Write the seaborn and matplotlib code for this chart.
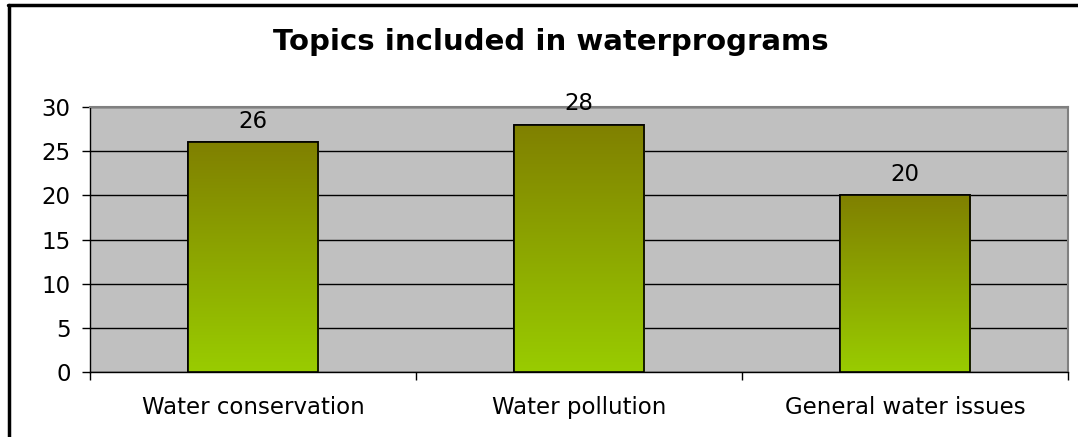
import numpy as np
import pandas as pd
import matplotlib
matplotlib.use("Agg")
import matplotlib.pyplot as plt
from matplotlib.lines import Line2D
import seaborn as sns

categories = ["Water conservation", "Water pollution", "General water issues"]
counts = [26, 28, 20]
yticks = [0, 5, 10, 15, 20, 25, 30]

sns.set_style("white")
# reference text is wide Arial-like; DejaVu Sans gets closer on width
plt.rcParams["font.family"] = ["DejaVu Sans"]

data = pd.DataFrame({"topic": categories, "count": counts})

fig = plt.figure(figsize=(10.78, 4.37), dpi=100)
ax = fig.add_axes([0.0835, 0.1487, 0.9072, 0.6064])
ax.set_facecolor("#C0C0C0")

sns.barplot(data=data, x="topic", y="count", ax=ax, width=0.4,
            color="#99CC00", edgecolor="black", linewidth=1.2, zorder=3)

# gradient fill olive -> lime inside each bar
grad = np.linspace(0, 1, 256).reshape(-1, 1)
cmap = matplotlib.colors.LinearSegmentedColormap.from_list("g", ["#99CC00", "#808000"])
for bar in ax.patches:
    x0, y0 = bar.get_x(), bar.get_y()
    w, h = bar.get_width(), bar.get_height()
    im = ax.imshow(grad, extent=[x0, x0 + w, y0, y0 + h], origin="lower",
                   cmap=cmap, aspect="auto", zorder=3.5)
    im.set_clip_path(bar)
    ax.add_patch(plt.Rectangle((x0, y0), w, h, fill=False, edgecolor="black",
                               linewidth=1.2, zorder=4))

for i, v in enumerate(counts):
    ax.text(i, v + 1.1, str(v), ha="center", va="bottom", fontsize=16.5, color="black")

ax.set_xlim(-0.5, len(categories) - 0.5)
ax.set_ylim(0, 30)
ax.set_yticks(yticks)
ax.yaxis.grid(True, color="black", linewidth=1, zorder=1)
ax.set_axisbelow(True)
ax.tick_params(axis="y", labelsize=16.5, labelcolor="black", length=6, width=1,
               color="black", direction="out", left=True, pad=8)
ax.set_xticks(np.arange(-0.5, len(categories)), minor=False)
ax.set_xticklabels([])
ax.set_xticks(range(len(categories)), minor=True)
ax.set_xticklabels(categories, minor=True, fontsize=16.5, color="black")
ax.tick_params(axis="x", which="major", length=6, width=1, color="black", direction="out", bottom=True)
ax.tick_params(axis="x", which="minor", length=0, pad=17)
ax.set_xlabel("")
ax.set_ylabel("")

for side in ["top", "right"]:
    ax.spines[side].set_color("#808080")
    ax.spines[side].set_linewidth(1.5)
for side in ["left", "bottom"]:
    ax.spines[side].set_color("black")
    ax.spines[side].set_linewidth(1)

fig.text(0.511, 0.903, "Topics included in waterprograms", ha="center", va="center",
         fontsize=21, fontweight="bold", color="black")

# chart frame (top and left edges visible)
fig.add_artist(Line2D([0.0075, 1.0], [0.988, 0.988], color="black", linewidth=2.5,
                      transform=fig.transFigure))
fig.add_artist(Line2D([0.0085, 0.0085], [0.0, 0.988], color="black", linewidth=2.5,
                      transform=fig.transFigure))

fig.savefig("out.png", dpi=100)
